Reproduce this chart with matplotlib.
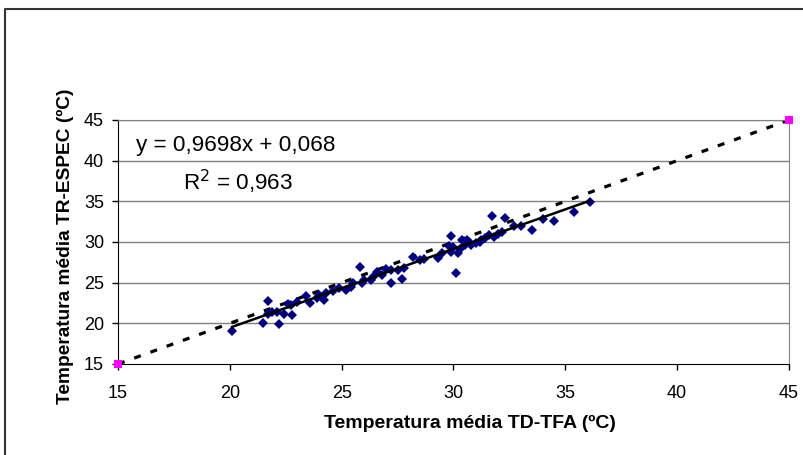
import numpy as np
import matplotlib
matplotlib.use('Agg')
import matplotlib.pyplot as plt
from matplotlib.lines import Line2D

plt.rcParams['font.family'] = ['Liberation Sans', 'DejaVu Sans']

# observed data (TD-TFA vs TR-ESPEC)
td_tfa = [20.1, 21.5, 21.7, 21.7, 21.9, 22.1, 22.2, 22.4, 22.6, 22.75, 22.8, 23.0,
          23.4, 23.6, 23.9, 24.0, 24.2, 24.3, 24.6, 24.9, 25.2, 25.4, 25.5, 25.8,
          25.9, 26.0, 26.3, 26.4, 26.6, 26.8, 27.0, 27.2, 27.2, 27.5, 27.7, 27.8,
          28.2, 28.5, 28.7, 29.3, 29.5, 29.8, 29.9, 29.9, 30.0, 30.1, 30.2, 30.3,
          30.4, 30.5, 30.6, 30.7, 30.8, 31.0, 31.2, 31.25, 31.4, 31.6, 31.7, 31.8,
          32.0, 32.15, 32.3, 32.7, 33.0, 33.5, 34.0, 34.5, 35.4, 36.1]
tr_espec = [19.0, 20.0, 22.7, 21.2, 21.4, 21.4, 19.9, 21.2, 22.4, 22.2, 21.0, 22.6,
            23.3, 22.5, 23.1, 23.5, 22.9, 23.7, 24.0, 24.4, 24.1, 24.5, 24.9, 26.9,
            25.0, 25.3, 25.3, 25.7, 26.3, 25.9, 26.7, 25.0, 26.6, 26.6, 25.4, 26.8,
            28.2, 27.8, 27.9, 28.0, 28.6, 29.5, 30.7, 28.8, 29.4, 26.2, 28.6, 29.2,
            30.25, 29.6, 30.3, 30.0, 29.6, 29.9, 30.0, 30.3, 30.5, 30.9, 33.2, 30.6,
            31.0, 31.2, 33.0, 32.0, 32.0, 31.5, 32.8, 32.6, 33.7, 34.9]

# 1:1 reference line end points
ref_x = [15, 45]
ref_y = [15, 45]

# trendline reported by the spreadsheet
slope = 0.9698
intercept = 0.068
eq_text = 'y = 0,9698x + 0,068'
r2_text = 'R$^2$ = 0,963'

ticks = [15, 20, 25, 30, 35, 40, 45]

fig = plt.figure(figsize=(8.04, 4.55), dpi=100)
ax = fig.add_axes([118/804, 1-364/455, 671/804, 244/455])

ax.set_xlim(15, 45)
ax.set_ylim(15, 45)
ax.set_xticks(ticks)
ax.set_yticks(ticks)
ax.tick_params(labelsize=13, direction='out', length=4, width=1)
ax.tick_params(axis='x', pad=11)
ax.tick_params(axis='y', pad=6)

for y in ticks[1:]:
    ax.axhline(y, color='#808080', lw=1, zorder=0)
ax.spines['left'].set_color('black')
ax.spines['bottom'].set_color('black')
ax.spines['top'].set_color('#808080')
ax.spines['right'].set_color('#808080')

ax.plot(ref_x, ref_y, color='black', lw=2.3, dashes=(2.2, 3.2), zorder=2)
ax.plot(td_tfa, tr_espec, 'D', color='#000080', ms=4.6, mew=0, zorder=3)
fx = np.array([min(td_tfa), max(td_tfa)])
ax.plot(fx, slope*fx + intercept, color='black', lw=1.8, zorder=4)
ax.plot(ref_x, ref_y, 's', color='#FF00FF', ms=5.8, mew=0, clip_on=False, zorder=5)

ax.text(15.8, 41.9, eq_text, fontsize=16.2, ha='left', va='center')
ax.text(17.9, 37.4, r2_text, fontsize=16.2, ha='left', va='center')

ax.set_xlabel('Temperatura média TD-TFA (ºC)', fontsize=14, fontweight='bold', va='center')
ax.set_ylabel('Temperatura média TR-ESPEC (ºC)', fontsize=13.8, fontweight='bold', va='center')
ax.xaxis.set_label_coords(0.5246, -0.242)
ax.yaxis.set_label_coords(-0.079, 0.482)

# outer chart border
fig.add_artist(Line2D([5/804, 5/804, 1], [0, 1-9/455, 1-9/455],
                      transform=fig.transFigure, color='#333333', lw=1.5))

fig.savefig('out.png', dpi=100)
